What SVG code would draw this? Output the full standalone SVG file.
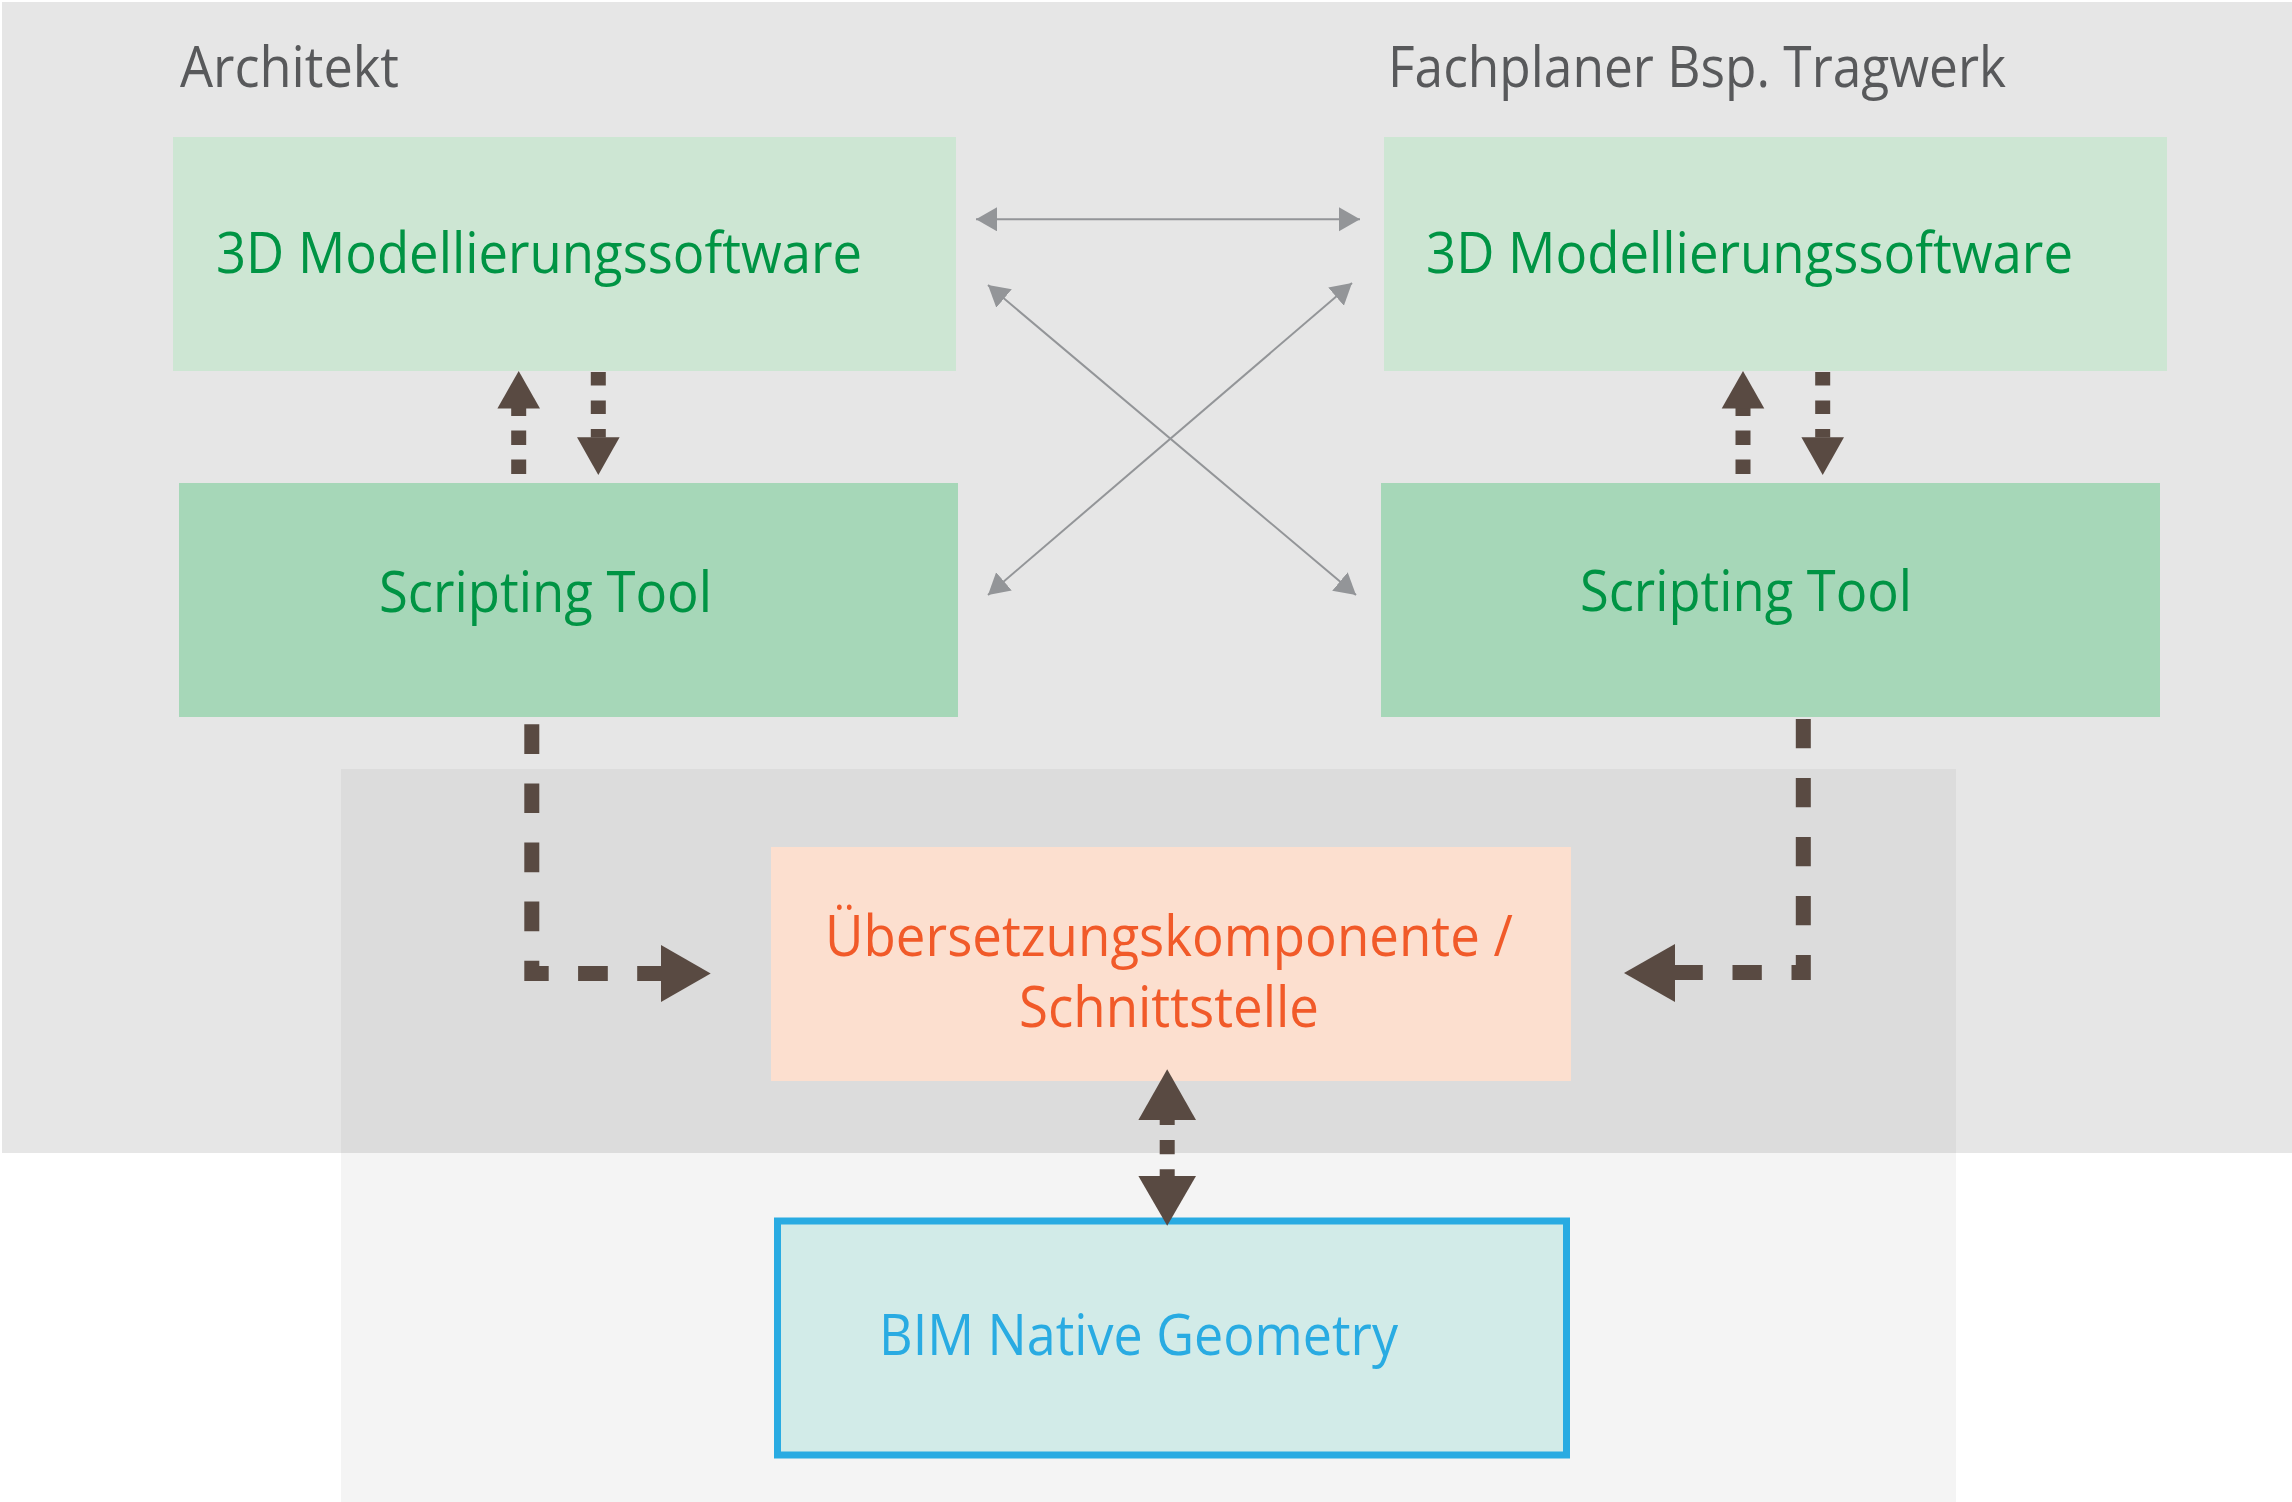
<svg xmlns="http://www.w3.org/2000/svg" width="2292" height="1502" viewBox="0 0 2292 1502">
  <defs>
    <style>
      .lbl { font-family: "Open Sans", "Noto Sans", "Liberation Sans", sans-serif; font-size: 56px; }
      .title { fill: #58595b; }
      .green { fill: #009444; }
      .orange { fill: #f15a29; }
      .blue { fill: #29abe2; }
      .soft { fill: #cde6d3; }
      .script { fill: #a6d7b8; }
      .brown { stroke: #594a42; stroke-width: 15; fill: none; }
      .head { fill: #594a42; }
      .thin { stroke: #939598; stroke-width: 2; fill: none; }
    </style>
    <marker id="ga" markerUnits="userSpaceOnUse" markerWidth="24" markerHeight="26" refX="21" refY="12" orient="auto-start-reverse">
      <path d="M0,0 L21,12 L0,24 Z" fill="#939598"/>
    </marker>
  </defs>

  <rect x="0" y="0" width="2292" height="1502" fill="#ffffff"/>
  <rect x="2" y="2" width="2290" height="1151" fill="#e6e6e6"/>
  <rect x="341" y="769" width="1615" height="733" fill="#f4f4f4"/>
  <rect x="341" y="769" width="1615" height="384" fill="#dcdcdc"/>

  <text class="lbl title" x="180" y="87" textLength="219" lengthAdjust="spacingAndGlyphs">Architekt</text>
  <text class="lbl title" x="1388" y="87" textLength="618" lengthAdjust="spacingAndGlyphs">Fachplaner Bsp. Tragwerk</text>

  <g id="node-3d-left">
    <rect class="soft" x="173" y="137" width="783" height="234"/>
    <text class="lbl green" x="216" y="273" textLength="646" lengthAdjust="spacingAndGlyphs">3D Modellierungssoftware</text>
  </g>
  <g id="node-3d-right">
    <rect class="soft" x="1384" y="137" width="783" height="234"/>
    <text class="lbl green" x="1426" y="273" textLength="647" lengthAdjust="spacingAndGlyphs">3D Modellierungssoftware</text>
  </g>
  <g id="node-script-left">
    <rect class="script" x="179" y="483" width="779" height="234"/>
    <text class="lbl green" x="379" y="612" textLength="333" lengthAdjust="spacingAndGlyphs">Scripting Tool</text>
  </g>
  <g id="node-script-right">
    <rect class="script" x="1381" y="483" width="779" height="234"/>
    <text class="lbl green" x="1580" y="611" textLength="332" lengthAdjust="spacingAndGlyphs">Scripting Tool</text>
  </g>
  <g id="node-uebersetzung">
    <rect x="771" y="847" width="800" height="234" fill="#fcdfcf"/>
    <text class="lbl orange" x="825" y="956" textLength="688" lengthAdjust="spacingAndGlyphs">Übersetzungskomponente /</text>
    <text class="lbl orange" x="1019" y="1027" textLength="300" lengthAdjust="spacingAndGlyphs">Schnittstelle</text>
  </g>
  <g id="node-bim">
    <rect x="777.5" y="1221" width="789" height="234" fill="#d2ebe8" stroke="#29abe2" stroke-width="7"/>
    <text class="lbl blue" x="879" y="1355" textLength="519" lengthAdjust="spacingAndGlyphs">BIM Native Geometry</text>
  </g>

  <g id="connectors">
    <line class="thin" x1="976" y1="219.3" x2="1360" y2="219.3" marker-start="url(#ga)" marker-end="url(#ga)"/>
    <line class="thin" x1="988" y1="285" x2="1356" y2="595" marker-start="url(#ga)" marker-end="url(#ga)"/>
    <line class="thin" x1="988" y1="595" x2="1352" y2="283" marker-start="url(#ga)" marker-end="url(#ga)"/>

    <line class="brown" x1="518.7" y1="474" x2="518.7" y2="408" stroke-dasharray="14.5 14.5"/>
    <polygon class="head" points="518.7,371 497.4,408.5 540,408.5"/>
    <line class="brown" x1="598.3" y1="372" x2="598.3" y2="437.5" stroke-dasharray="13.5 15"/>
    <polygon class="head" points="577,437.3 619.6,437.3 598.3,475"/>

    <line class="brown" x1="1743" y1="474" x2="1743" y2="408" stroke-dasharray="14.5 14.5"/>
    <polygon class="head" points="1743,371 1721.7,408.5 1764.3,408.5"/>
    <line class="brown" x1="1822.7" y1="372" x2="1822.7" y2="437.5" stroke-dasharray="13.5 15"/>
    <polygon class="head" points="1801.4,437.3 1844,437.3 1822.7,475"/>

    <path class="brown" d="M531.8,724.3 V973.5 H661.5" stroke-dasharray="29.7 29.4" stroke-linejoin="miter"/>
    <polygon class="head" points="661,945 710.7,973.5 661,1002"/>

    <path class="brown" d="M1803.3,719 V972.5 H1674.5" stroke-dasharray="29.3 29.7" stroke-linejoin="miter"/>
    <polygon class="head" points="1675,944 1624,973 1675,1002"/>

    <line class="brown" x1="1167.2" y1="1119.5" x2="1167.2" y2="1176.5" stroke-dasharray="5.5 15 14.3 15 7.2"/>
    <polygon class="head" points="1167.2,1069.3 1138.4,1120 1196,1120"/>
    <polygon class="head" points="1138.4,1176 1196,1176 1167.2,1225.7"/>
  </g>
</svg>
